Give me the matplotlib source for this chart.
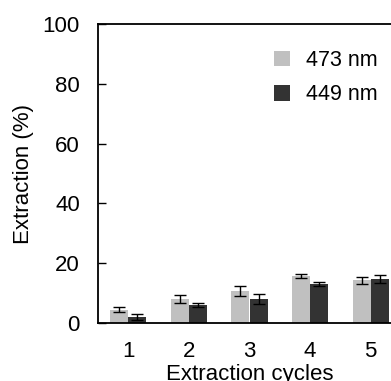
import matplotlib
matplotlib.use("Agg")
import matplotlib.pyplot as plt
import numpy as np

cycles = ["1", "2", "3", "4", "5"]
series_names = ["473 nm", "449 nm"]
vals_473 = [4.5, 8.0, 10.7, 15.7, 14.3]
err_473 = [0.7, 1.2, 1.7, 0.6, 1.2]
vals_449 = [2.0, 6.0, 8.0, 13.0, 14.7]
err_449 = [1.1, 0.6, 1.6, 0.6, 1.2]
yticks = [0, 20, 40, 60, 80, 100]

plt.rcParams['font.family'] = ['Liberation Sans', 'DejaVu Sans']

fig = plt.figure(figsize=(3.91, 3.81), dpi=100)
W, H = 391, 381
left, right, top, bottom = 98, 401, 24, 323
ax = fig.add_axes([left / W, 1 - bottom / H, (right - left) / W, (bottom - top) / H])

x = np.arange(1, len(cycles) + 1)
w = 0.3
ekw = dict(elinewidth=1.0, capthick=1.0, ecolor='black')
ax.bar(x - w / 2, vals_473, w, yerr=err_473, color='#c0c0c0', capsize=4.5,
       error_kw=ekw, label=series_names[0])
ax.bar(x + w / 2, vals_449, w, yerr=err_449, color='#333333', capsize=4.5,
       error_kw=ekw, label=series_names[1])

ax.set_xlim(0.5, 5.5)
ax.set_ylim(0, 100)
ax.set_yticks(yticks)
ax.set_xticks(x)
ax.set_xticklabels(cycles)
for s in ax.spines.values():
    s.set_linewidth(1.3)
ax.tick_params(axis='y', direction='in', length=5.8, width=1.0, labelsize=16, pad=13)
ax.tick_params(axis='x', length=0, labelsize=16, pad=13)
ax.set_ylabel("Extraction (%)", fontsize=16, labelpad=6)
ax.set_xlabel("Extraction cycles", fontsize=16, labelpad=1.5)

leg = ax.legend(loc='upper left', bbox_to_anchor=(274 / W, 1 - 50 / H),
                bbox_transform=fig.transFigure, frameon=False, fontsize=15.5,
                handlelength=0.75, handleheight=0.75, handletextpad=0.75,
                labelspacing=0.62, borderpad=0, borderaxespad=0)

fig.savefig("out.png", dpi=100)
